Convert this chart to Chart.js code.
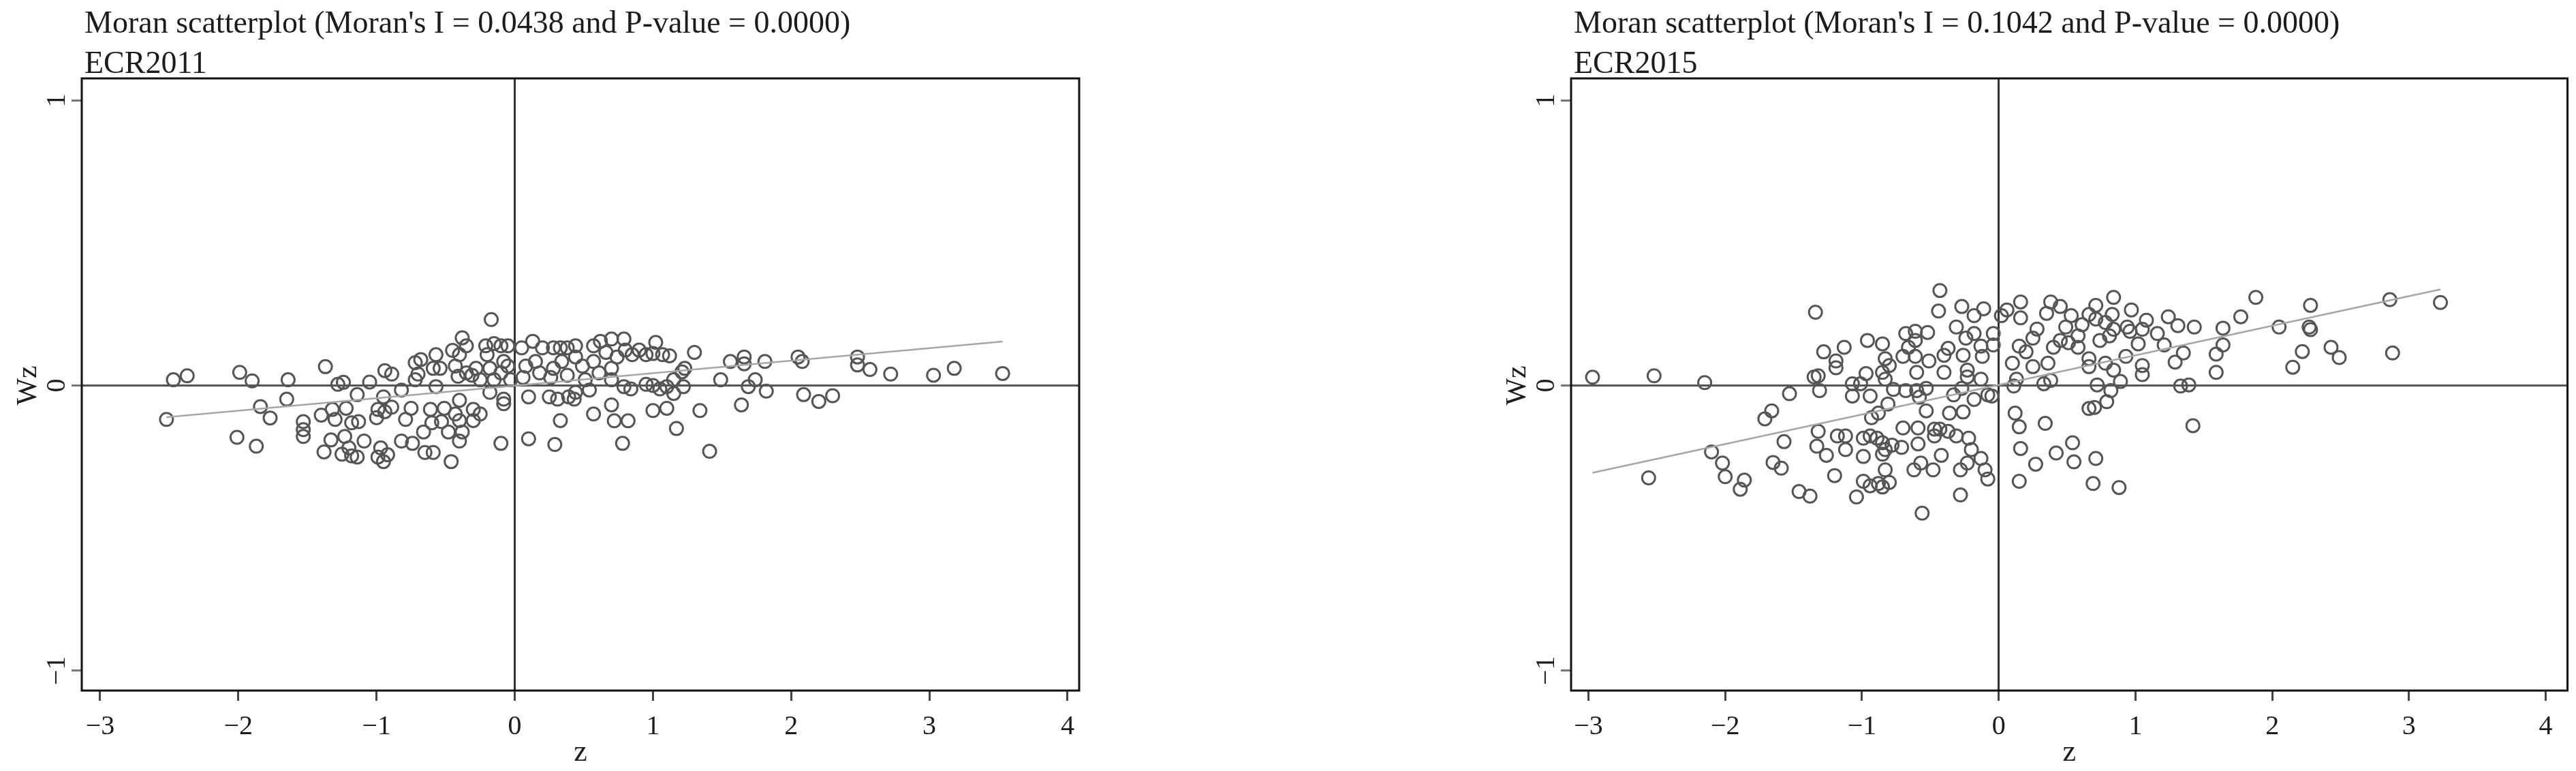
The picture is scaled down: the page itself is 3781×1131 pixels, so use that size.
<!DOCTYPE html>
<html>
<head>
<meta charset="utf-8">
<script src="https://cdn.jsdelivr.net/npm/chart.js@4.4.1/dist/chart.umd.min.js"></script>
<style>
  html, body { margin: 0; padding: 0; background: #fff; }
  body { width: 3781px; height: 1131px; position: relative; overflow: hidden; }
  .panel { position: absolute; top: 0; }
</style>
</head>
<body>
<div class="panel" style="left:0px"><canvas id="left" width="1640" height="1131"></canvas></div>
<div class="panel" style="left:2186px"><canvas id="right" width="1595" height="1131"></canvas></div>
<script>
// tick labels
const xTicks = [-3, -2, -1, 0, 1, 2, 3, 4];
const yTicks = [-1, 0, 1];

// ECR2011 (z, Wz)
const z2011 = [
  -2.52, -2.47, -2.37, -1.99, -1.90, -1.84, -1.77, -2.01, -1.87, -1.64, -1.65, -1.37, -1.53, -1.53,
  -1.53, -1.38, -1.33, -1.25, -1.28, -1.24, -1.40, -1.32, -1.30, -1.22, -1.18, -1.23, -1.20, -1.18,
  -1.14, -1.13, -1.09, -1.14, -1.05, -0.94, -0.89, -0.95, -0.99, -0.94, -0.89, -1.00, -0.97, -0.99,
  -0.92, -0.95, -0.82, -0.79, -0.75, -0.82, -0.74, -0.72, -0.68, -0.72, -0.70, -0.57, -0.59, -0.54,
  -0.57, -0.66, -0.60, -0.61, -0.65, -0.59, -0.51, -0.53, -0.48, -0.46, -0.45, -0.38, -0.35, -0.40,
  -0.43, -0.41, -0.35, -0.40, -0.43, -0.40, -0.38, -0.40, -0.30, -0.25, -0.30, -0.31, -0.28, -0.21,
  -0.20, -0.17, -0.15, -0.10, -0.05, -0.25, -0.18, -0.15, -0.10, -0.05, -0.03, -0.08, -0.18, -0.08,
  -0.08, -0.10, 0.05, 0.10, 0.10, 0.13, 0.20, 0.08, 0.15, 0.18, 0.06, 0.25, 0.31, 0.28, 0.33, 0.28,
  0.34, 0.26, 0.33, 0.29, 0.38, 0.38, 0.39,
  0.44, 0.44, 0.49, 0.44, 0.43, 0.54, 0.57, 0.62, 0.70, 0.79, 0.66, 0.74, 0.57, 0.70, 0.61, 0.70,
  0.51, 0.80, 0.85, 0.90, 0.95, 1.02, 1.00, 1.07, 1.12, 0.79, 0.84, 0.95, 1.00, 1.05, 1.10, 1.15,
  1.22, 1.15, 1.23, 1.21, 1.30, 0.57, 0.70, 0.72, 0.82, 0.78, 1.00, 1.10, 1.17, 1.34, 1.41, 1.49,
  1.56, 1.66, 1.66, 1.81, 1.74, 1.69, 1.82, 1.64,
  2.05, 2.08, 2.09, 2.20, 2.30, 2.48, 2.48, 2.57, 2.72, 3.03, 3.18, 3.53
];
const wz2011 = [
  -0.119, 0.020, 0.034, 0.046, 0.016, -0.074, -0.114, -0.182, -0.213, 0.020, -0.048, 0.066, -0.127, -0.155,
  -0.179, -0.233, -0.191, -0.241, 0.004, 0.011, -0.104, -0.084, -0.119, -0.080, -0.131, -0.179, -0.219, -0.247,
  -0.032, -0.127, -0.195, -0.251, 0.012, 0.052, 0.040, -0.040, -0.084, -0.092, -0.076, -0.113, -0.219, -0.251,
  -0.243, -0.267, -0.016, -0.119, -0.080, -0.195, -0.203, 0.080, 0.091, 0.020, 0.040, 0.108, 0.060, 0.060,
  -0.004, -0.163, -0.131, -0.084, -0.235, -0.235, -0.080, -0.127, -0.163, -0.267, 0.123, 0.167, 0.139, 0.108,
  0.068, 0.032, 0.044, -0.052, -0.100, -0.123, -0.163, -0.195, -0.084, -0.100, -0.123, 0.036, 0.060, 0.139,
  0.108, 0.231, 0.147, 0.139, 0.139, 0.020, 0.060, 0.020, 0.044, 0.068, 0.020, 0.084, -0.024, -0.048,
  -0.064, -0.203, 0.132, -0.040, -0.187, 0.155, 0.132, 0.068, 0.084, 0.044, 0.028, -0.040, -0.048, 0.132, 0.132, 0.060,
  0.084, 0.028, -0.123, -0.207, 0.132, 0.036, -0.040,
  0.139, 0.100, 0.068, -0.024, -0.048, -0.016, 0.139, 0.155, 0.163, 0.163, 0.116, 0.100, 0.084, 0.060, 0.044, 0.020,
  0.020, 0.124, 0.108, 0.124, 0.108, 0.151, 0.112, 0.108, 0.104, -0.004, -0.012, 0.004, 0.000, -0.012, -0.004, 0.020,
  -0.004, -0.028, 0.060, 0.048, 0.116, -0.100, -0.068, -0.124, -0.124, -0.203, -0.088, -0.080, -0.151, -0.088, -0.231, 0.020,
  0.084, 0.100, 0.076, 0.084, 0.020, -0.004, -0.020, -0.068,
  0.100, 0.084, -0.032, -0.056, -0.036, 0.100, 0.072, 0.056, 0.040, 0.036, 0.060, 0.042
];

// ECR2015 (z, Wz)
const z2015 = [
  -2.97, -2.52, -2.15, -2.56, -2.10, -2.02, -2.00, -1.86, -1.89, -1.66, -1.71, -1.53, -1.57, -1.65, -1.59,
  -1.34, -1.28, -1.19, -1.19, -1.13, -1.35, -1.32, -1.31, -1.07, -1.07, -1.01, -0.97, -0.96, -0.94, -0.85,
  -0.83, -0.85, -0.83, -0.80, -0.77, -0.81, -0.93, -0.88, -0.68, -0.61, -0.52, -0.61, -0.66, -0.70, -0.61,
  -0.51, -0.60, -0.68, -0.60, -0.53, -0.58, -0.53, -0.43, -0.44, -0.40, -0.37, -0.40, -0.31, -0.27, -0.18,
  -0.11, -0.24, -0.18, -0.13, -0.04, -0.04, -0.12, -0.26, -0.23, -0.23, -0.13, -0.27, -0.33, -0.18, -0.08,
  -0.05, -0.36, -0.26, 0.02, 0.06, -0.70, -0.59, -0.59, -0.47, -0.43, -0.47, -0.37, -0.31, -0.22, -0.20,
  -0.42, -1.32, -1.33, -1.26, -1.18, -1.12, -1.12, -0.99, -0.99, -0.94, -0.89, -0.85, -0.83, -0.78, -0.71,
  -0.85, -0.83, -1.20, -0.99, -0.94, -0.88, -0.85, -0.80, -1.46, -1.38, -1.04, -0.62, -0.57, -0.48, -0.28,
  -0.23, -0.13, -0.10, -0.08, -0.28, -0.56,
  0.10, 0.11, 0.12, 0.15, 0.16, 0.15, 0.34, 0.27, 0.42, 0.54, 0.55, 0.71, 0.69, 0.88, 1.42, 0.66, 0.70,
  0.79, 0.82, 0.72, 0.89, 0.33, 0.13, 0.38, 1.33, 1.39, 0.84, 0.97, 1.08, 1.05, 1.02, 1.16, 1.24, 1.31,
  1.21, 1.43, 1.35, 1.29, 1.64, 1.64, 1.59, 1.59, 1.05, 1.05, 0.93, 0.84, 0.78, 0.66, 0.66, 0.25, 0.36,
  0.15, 0.25, 0.28, 0.16, 0.16, 0.38, 0.35, 0.45, 0.53, 0.40, 0.45, 0.51, 0.58, 0.71, 0.71, 0.66, 0.78,
  0.83, 0.84, 0.74, 0.61, 0.58, 0.49, 0.94, 0.96, 0.81, 0.20,
  1.88, 1.77, 2.05, 2.28, 2.27, 2.28, 2.22, 2.15, 2.43, 2.49, 2.86, 2.88, 3.23
];
const wz2015 = [
  0.029, 0.034, 0.010, -0.324, -0.233, -0.272, -0.320, -0.332, -0.364, -0.089, -0.117, -0.029, -0.197, -0.270, -0.290,
  0.257, 0.118, 0.086, 0.062, 0.134, 0.030, 0.034, -0.018, 0.006, -0.037, 0.006, 0.042, 0.158, -0.037, 0.146,
  0.094, 0.046, 0.022, 0.070, -0.014, -0.065, -0.113, -0.097, 0.182, 0.190, 0.186, 0.158, 0.134, 0.102, 0.102,
  0.086, 0.046, -0.018, -0.018, -0.010, -0.041, -0.089, 0.333, 0.261, 0.106, 0.130, 0.046, 0.205, 0.277, 0.245,
  0.269, 0.166, 0.182, 0.138, 0.182, 0.142, 0.102, 0.106, 0.054, 0.030, 0.022, -0.010, -0.033, -0.049, -0.033,
  -0.037, -0.097, -0.093, 0.245, 0.265, -0.149, -0.149, -0.205, -0.153, -0.153, -0.177, -0.161, -0.177, -0.185, -0.225,
  -0.245, -0.161, -0.213, -0.245, -0.177, -0.177, -0.225, -0.185, -0.249, -0.177, -0.185, -0.201, -0.225, -0.209, -0.217,
  -0.241, -0.296, -0.316, -0.336, -0.352, -0.344, -0.356, -0.340, -0.372, -0.388, -0.391, -0.296, -0.272, -0.296, -0.296,
  -0.272, -0.256, -0.296, -0.328, -0.384, -0.448,
  0.078, -0.002, -0.097, -0.145, -0.221, -0.336, -0.133, -0.276, -0.237, -0.201, -0.268, -0.256, -0.344, -0.358, -0.141, -0.081, -0.077,
  -0.057, -0.018, 0.002, 0.014, 0.006, 0.022, 0.018, -0.002, 0.002, 0.309, 0.265, 0.229, 0.197, 0.146, 0.182, 0.241, 0.210,
  0.142, 0.205, 0.114, 0.082, 0.201, 0.142, 0.110, 0.046, 0.070, 0.038, 0.102, 0.054, 0.078, 0.066, 0.094, 0.066, 0.078,
  0.138, 0.166, 0.198, 0.293, 0.237, 0.293, 0.253, 0.277, 0.245, 0.134, 0.158, 0.150, 0.134, 0.281, 0.233, 0.249, 0.221,
  0.249, 0.197, 0.158, 0.213, 0.174, 0.205, 0.205, 0.190, 0.174, 0.118,
  0.309, 0.241, 0.205, 0.281, 0.205, 0.196, 0.119, 0.064, 0.134, 0.098, 0.301, 0.114, 0.291
];

// fitted lines (end points)
const fitZ2011 = [-2.52, 3.53];
const fitWz2011 = [-0.111, 0.154];
const fitZ2015 = [-2.97, 3.23];
const fitWz2015 = [-0.306, 0.337];

const serif = '"Liberation Serif", "Times New Roman", serif';
const ink = '#1c1c1c';

function fmt(v) {
  return v < 0 ? '\u2212' + (-v) : String(v);
}

function pairs(xs, ys) {
  return xs.map((x, i) => ({ x: x, y: ys[i] }));
}

// frame, rotated y labels, Wz title and the two title lines
const decoPlugin = {
  id: 'deco',
  afterDraw(chart, args, opts) {
    const ctx = chart.ctx;
    const a = chart.chartArea;
    ctx.save();
    ctx.strokeStyle = '#111';
    ctx.lineWidth = 3;
    ctx.strokeRect(a.left, a.top, a.right - a.left, a.bottom - a.top);

    ctx.fillStyle = ink;
    ctx.textAlign = 'center';
    ctx.textBaseline = 'middle';
    ctx.font = '40px ' + serif;
    const ys = chart.scales.y;
    yTicks.forEach(v => {
      ctx.save();
      ctx.translate(a.left - 36, ys.getPixelForValue(v));
      ctx.rotate(-Math.PI / 2);
      ctx.fillText(fmt(v), 0, 0);
      ctx.restore();
    });

    ctx.font = '42px ' + serif;
    ctx.save();
    ctx.translate(a.left - 78, ys.getPixelForValue(0));
    ctx.rotate(-Math.PI / 2);
    ctx.fillText('Wz', 0, 0);
    ctx.restore();

    ctx.textAlign = 'left';
    ctx.textBaseline = 'alphabetic';
    ctx.font = '46px ' + serif;
    ctx.fillText(opts.title, a.left + 4, 48);
    ctx.fillText(opts.sub, a.left + 4, 107);
    ctx.restore();
  }
};

function makeChart(id, pts, fit, xMin, xMax, padRight, title, sub) {
  const ctx = document.getElementById(id).getContext('2d');
  return new Chart(ctx, {
    type: 'scatter',
    data: {
      datasets: [
        {
          data: fit,
          showLine: true,
          borderColor: '#a6a6a6',
          borderWidth: 2.5,
          pointRadius: 0,
          order: 0
        },
        {
          data: pts,
          pointStyle: 'circle',
          pointRadius: 9.5,
          borderWidth: 3,
          borderColor: '#555555',
          backgroundColor: 'rgba(0,0,0,0)',
          order: 1
        }
      ]
    },
    options: {
      responsive: false,
      animation: false,
      devicePixelRatio: 1,
      layout: { padding: { left: 0, right: padRight, top: 115, bottom: 0 } },
      plugins: {
        legend: { display: false },
        tooltip: { enabled: false },
        deco: { title: title, sub: sub }
      },
      scales: {
        x: {
          type: 'linear',
          min: xMin,
          max: xMax,
          afterBuildTicks: s => { s.ticks = xTicks.map(v => ({ value: v })); },
          afterFit: s => { s.height = 118; },
          border: { display: false },
          grid: {
            drawOnChartArea: true,
            color: c => (c.tick && c.tick.value === 0) ? '#333' : 'rgba(0,0,0,0)',
            lineWidth: 3,
            tickLength: 15,
            tickColor: '#444',
            tickWidth: 3
          },
          ticks: {
            font: { family: serif, size: 40 },
            color: ink,
            padding: 14,
            maxRotation: 0,
            autoSkip: false,
            callback: v => fmt(v)
          },
          title: {
            display: true,
            text: 'z',
            font: { family: serif, size: 44 },
            color: ink,
            padding: 0
          }
        },
        y: {
          type: 'linear',
          min: -1.07,
          max: 1.077,
          afterBuildTicks: s => { s.ticks = yTicks.map(v => ({ value: v })); },
          afterFit: s => { s.width = 120; },
          border: { display: false },
          grid: {
            drawOnChartArea: true,
            color: c => (c.tick && c.tick.value === 0) ? '#555' : 'rgba(0,0,0,0)',
            lineWidth: 3,
            tickLength: 15,
            tickColor: '#777',
            tickWidth: 3
          },
          ticks: { display: false }
        }
      }
    },
    plugins: [decoPlugin]
  });
}

makeChart('left', pairs(z2011, wz2011), pairs(fitZ2011, fitWz2011), -3.133, 4.084, 56,
  "Moran scatterplot (Moran's I = 0.0438 and P-value = 0.0000)", 'ECR2011');
makeChart('right', pairs(z2015, wz2015), pairs(fitZ2015, fitWz2015), -3.127, 4.159, 7,
  "Moran scatterplot (Moran's I = 0.1042 and P-value = 0.0000)", 'ECR2015');
</script>
</body>
</html>
